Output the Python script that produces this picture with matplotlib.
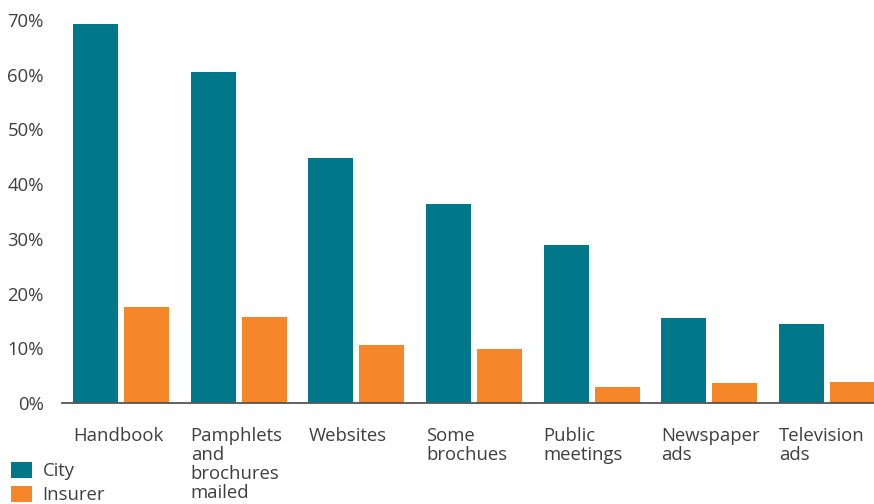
import matplotlib.pyplot as plt
import numpy as np

categories = [
    "Handbook",
    "Pamphlets\nand\nbrochures\nmailed",
    "Websites",
    "Some\nbrochues",
    "Public\nmeetings",
    "Newspaper\nads",
    "Television\nads",
]
city = [69.3, 60.5, 44.8, 36.4, 28.9, 15.5, 14.4]
insurer = [17.5, 15.7, 10.6, 9.9, 2.9, 3.7, 3.8]
y_ticks = [0, 10, 20, 30, 40, 50, 60, 70]

CITY_COLOR = "#00788a"
INSURER_COLOR = "#f5862a"
TEXT_COLOR = "#3f3f3f"
FONT_SIZE = 13.3

plt.rcParams["font.family"] = ["Open Sans", "DejaVu Sans"]

fig = plt.figure(figsize=(8.74, 5.04), dpi=100)
ax = fig.add_axes([62 / 874, 101 / 504, 812 / 874, 383 / 504])

x = np.arange(len(categories))
width = 0.382
offset = 0.217

ax.bar(x - offset, city, width, color=CITY_COLOR, label="City", zorder=2)
ax.bar(x + offset, insurer, width, color=INSURER_COLOR, label="Insurer", zorder=2)

ax.set_xlim(-0.501, 6.399)
ax.set_ylim(0, 70)

# category labels sit flush with the left edge of each group's first bar
ax.set_xticks(x - offset - width / 2)
ax.set_xticklabels(categories, ha="left", va="top", linespacing=1.08)
ax.tick_params(axis="x", length=0, pad=17, labelsize=FONT_SIZE, labelcolor=TEXT_COLOR)

ax.set_yticks(y_ticks)
ax.set_yticklabels([f"{v}%" for v in y_ticks])
ax.tick_params(axis="y", length=0, pad=13, labelsize=FONT_SIZE, labelcolor=TEXT_COLOR)

for side in ["top", "right", "left"]:
    ax.spines[side].set_visible(False)
ax.spines["bottom"].set_color("#555555")
ax.spines["bottom"].set_linewidth(1.3)
ax.spines["bottom"].set_zorder(3)

leg = ax.legend(
    loc="upper left",
    bbox_to_anchor=(11 / 874, 42 / 504),
    bbox_transform=fig.transFigure,
    frameon=False,
    fontsize=FONT_SIZE,
    handlelength=1.15,
    handleheight=0.95,
    handletextpad=0.55,
    labelspacing=0.3,
    borderpad=0,
    borderaxespad=0,
)
for t in leg.get_texts():
    t.set_color(TEXT_COLOR)

fig.savefig("out.png", dpi=100)
